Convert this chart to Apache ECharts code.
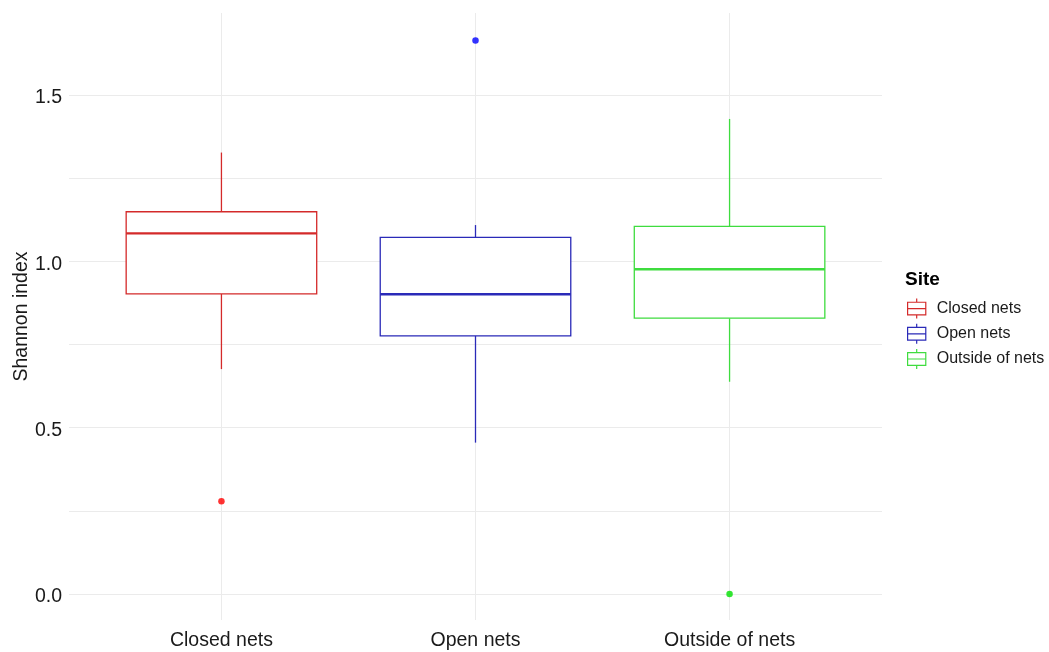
<!DOCTYPE html>
<html>
<head>
<meta charset="utf-8">
<title>Shannon index by site</title>
<script src="https://cdn.jsdelivr.net/npm/echarts@6/dist/echarts.min.js"></script>
<style>
  html, body { margin: 0; padding: 0; background: #ffffff; }
  #chart { width: 1049px; height: 652px; }
</style>
</head>
<body>
<div id="chart"></div>
<script>
// Sites along the x axis
const sites = ['Closed nets', 'Open nets', 'Outside of nets'];

// Box statistics per site: [lower whisker, Q1, median, Q3, upper whisker]
const closedStats = [0.676, 0.902, 1.084, 1.149, 1.327];
const openStats = [0.455, 0.776, 0.901, 1.072, 1.109];
const outsideStats = [0.638, 0.829, 0.976, 1.105, 1.428];

// Outlying observations per site
const closedOutliers = [0.279];
const openOutliers = [1.664];
const outsideOutliers = [0.0];

// Y axis tick values
const yLabelTicks = [0, 0.5, 1.0, 1.5];
const yGridTicks = [0, 0.25, 0.5, 0.75, 1.0, 1.25, 1.5];

// Box line colours and point colours
const lineColors = ['#d42a2a', '#2a2ab8', '#3fdc3f'];
const pointColors = ['#ff0000', '#0000ff', '#00e000'];

const statsBySite = [closedStats, openStats, outsideStats];
const outliersBySite = [closedOutliers, openOutliers, outsideOutliers];

const BOX_HALF = 0.375; // half of the box width in category units

function renderBox(params, api) {
  const x = api.value(0);
  const lo = api.value(1), q1 = api.value(2), med = api.value(3), q3 = api.value(4), hi = api.value(5);
  const color = lineColors[params.seriesIndex];
  const left = api.coord([x - BOX_HALF, q3]);
  const right = api.coord([x + BOX_HALF, q1]);
  const pHi = api.coord([x, hi]);
  const pQ3 = api.coord([x, q3]);
  const pQ1 = api.coord([x, q1]);
  const pLo = api.coord([x, lo]);
  const mL = api.coord([x - BOX_HALF, med]);
  const mR = api.coord([x + BOX_HALF, med]);
  const thin = { stroke: color, lineWidth: 1.3, fill: null };
  return {
    type: 'group',
    children: [
      { type: 'line', shape: { x1: pHi[0], y1: pHi[1], x2: pQ3[0], y2: pQ3[1] }, style: thin },
      { type: 'line', shape: { x1: pQ1[0], y1: pQ1[1], x2: pLo[0], y2: pLo[1] }, style: thin },
      { type: 'rect', shape: { x: left[0], y: left[1], width: right[0] - left[0], height: right[1] - left[1] },
        style: { stroke: color, lineWidth: 1.3, fill: '#ffffff' } },
      { type: 'line', shape: { x1: mL[0], y1: mL[1], x2: mR[0], y2: mR[1] },
        style: { stroke: color, lineWidth: 2.4 } }
    ]
  };
}

const series = [];
sites.forEach(function (name, i) {
  series.push({
    name: name,
    type: 'custom',
    renderItem: renderBox,
    itemStyle: { color: lineColors[i] },
    encode: { x: 0, y: [1, 2, 3, 4, 5] },
    data: [[i + 1].concat(statsBySite[i])],
    z: 3,
    silent: true
  });
});
sites.forEach(function (name, i) {
  series.push({
    name: name + ' outliers',
    type: 'scatter',
    symbol: 'circle',
    symbolSize: 6.5,
    itemStyle: { color: pointColors[i] },
    data: outliersBySite[i].map(function (v) { return [i + 1, v]; }),
    z: 4,
    silent: true
  });
});

const boxIcon = 'path://M10,0 L10,4 M0,4 L20,4 L20,18 L0,18 Z M0,11 L20,11 M10,18 L10,22';

const option = {
  backgroundColor: '#ffffff',
  animation: false,
  textStyle: { fontFamily: 'Liberation Sans, Arial, sans-serif' },
  grid: { left: 69, right: 167, top: 13, bottom: 32, containLabel: false, outerBoundsMode: 'none' },
  title: {
    text: 'Site',
    left: 905,
    top: 270,
    padding: 0,
    textStyle: { fontSize: 19, fontWeight: 'bold', color: '#000000', fontFamily: 'Liberation Sans, Arial, sans-serif' }
  },
  legend: {
    orient: 'vertical',
    left: 907,
    top: 298,
    padding: 0,
    itemWidth: 20,
    itemHeight: 20,
    itemGap: 4,
    selectedMode: false,
    textStyle: { fontSize: 16, color: '#1a1a1a', padding: [0, 0, 0, 5] },
    data: sites.map(function (name, i) {
      return {
        name: name,
        icon: boxIcon,
        itemStyle: { color: 'transparent', borderColor: lineColors[i], borderWidth: 1.2 }
      };
    })
  },
  xAxis: {
    type: 'value',
    min: 0.4,
    max: 3.6,
    axisLine: { show: false },
    axisTick: { show: false, customValues: [1, 2, 3] },
    axisLabel: {
      customValues: [1, 2, 3],
      formatter: function (v) { return sites[Math.round(v) - 1] || ''; },
      fontSize: 19.5,
      color: '#1a1a1a',
      margin: 11
    },
    splitLine: { show: true, lineStyle: { color: '#ebebeb', width: 1 } }
  },
  yAxis: {
    type: 'value',
    min: -0.0782,
    max: 1.7465,
    name: 'Shannon index',
    nameLocation: 'middle',
    nameGap: 37,
    nameMoveOverlap: false,
    nameTextStyle: { fontSize: 19.5, color: '#1a1a1a' },
    axisLine: { show: false },
    axisTick: { show: false, customValues: yGridTicks },
    axisLabel: {
      customValues: yLabelTicks,
      formatter: function (v) { return '{t|' + v.toFixed(1) + '}'; },
      color: '#1a1a1a',
      margin: 7,
      rich: {
        t: { fontSize: 19.5, color: '#1a1a1a', padding: [6, 0, 0, 0] }
      }
    },
    splitLine: { show: true, lineStyle: { color: '#ebebeb', width: 1 } }
  },
  series: series
};

const chart = echarts.init(document.getElementById('chart'), null, { renderer: 'canvas' });
chart.setOption(option);
</script>
</body>
</html>
